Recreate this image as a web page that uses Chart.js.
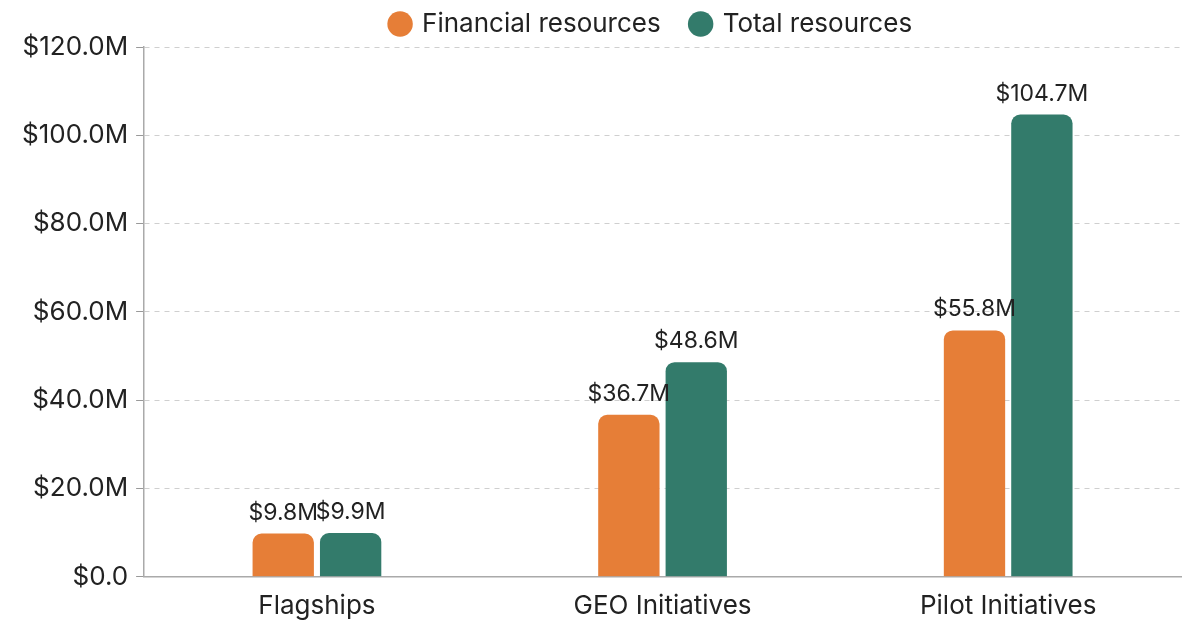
<!DOCTYPE html>
<html>
<head>
<meta charset="utf-8">
<script src="https://cdn.jsdelivr.net/npm/chart.js@4/dist/chart.umd.min.js"></script>
<style>
html,body{margin:0;padding:0;background:#fff;}
#wrap{width:1183px;height:621px;position:relative;}
</style>
</head>
<body>
<div id="wrap"><canvas id="c"></canvas></div>
<script>
const categories = ['Flagships', 'GEO Initiatives', 'Pilot Initiatives'];
const financialResources = [9.8, 36.7, 55.8];
const totalResources = [9.9, 48.6, 104.7];
const seriesNames = ['Financial resources', 'Total resources'];
const yTicks = [0, 20, 40, 60, 80, 100, 120];

const FONT = 'Inter, "Noto Sans", sans-serif';
const fmtTick = v => v === 0 ? '$0.0' : '$' + v.toFixed(1) + 'M';
const fmtLabel = v => '$' + v.toFixed(1) + 'M';

const labelPlugin = {
  id: 'barLabels',
  afterDatasetsDraw(chart) {
    const ctx = chart.ctx;
    ctx.save();
    ctx.font = '400 23px ' + FONT;
    ctx.fillStyle = '#222';
    ctx.textAlign = 'center';
    ctx.textBaseline = 'alphabetic';
    chart.data.datasets.forEach((ds, i) => {
      const meta = chart.getDatasetMeta(i);
      meta.data.forEach((bar, j) => {
        ctx.fillText(fmtLabel(ds.data[j]), bar.x, bar.y - 14);
      });
    });
    ctx.restore();
  }
};

new Chart(document.getElementById('c'), {
  type: 'bar',
  data: {
    labels: categories,
    datasets: [
      { label: seriesNames[0], data: financialResources, backgroundColor: '#E67E37', borderRadius: {topLeft: 9, topRight: 9}, borderSkipped: 'bottom' },
      { label: seriesNames[1], data: totalResources, backgroundColor: '#337B6B', borderRadius: {topLeft: 9, topRight: 9}, borderSkipped: 'bottom' }
    ]
  },
  options: {
    responsive: true,
    maintainAspectRatio: false,
    animation: false,
    layout: { padding: { left: 14, right: 2, top: 2, bottom: -15 } },
    datasets: { bar: { categoryPercentage: 0.39, barPercentage: 0.91 } },
    plugins: {
      legend: {
        position: 'top',
        fullSize: false,
        labels: {
          usePointStyle: true,
          pointStyle: 'circle',
          boxWidth: 18,
          boxHeight: 18,
          padding: 9,
          color: '#222',
          font: { family: FONT, size: 26 },
          generateLabels: chart => {
            const items = Chart.defaults.plugins.legend.labels.generateLabels(chart);
            items[0].text = items[0].text + '   ';
            items[items.length - 1].text = items[items.length - 1].text + '   ';
            return items;
          }
        }
      },
      tooltip: { enabled: false }
    },
    scales: {
      x: {
        grid: { display: false, drawTicks: false },
        border: { display: true, color: '#aaa', width: 1.5 },
        ticks: { color: '#222', padding: 14, font: { family: FONT, size: 26 } }
      },
      y: {
        min: 0, max: 120,
        afterBuildTicks: axis => { axis.ticks = yTicks.map(v => ({ value: v })); },
        grid: { color: '#cfcfcf', tickLength: 8, tickColor: '#999', tickBorderDash: [] },
        border: { display: true, color: '#aaa', width: 1.5, dash: [5, 5] },
        ticks: { color: '#222', padding: 8, font: { family: FONT, size: 26 }, callback: v => fmtTick(v) }
      }
    }
  },
  plugins: [labelPlugin]
});
</script>
</body>
</html>
